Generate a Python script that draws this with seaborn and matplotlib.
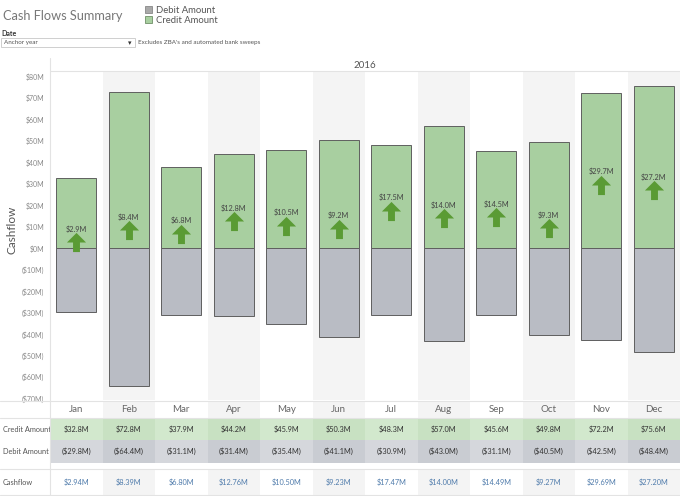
import matplotlib
matplotlib.use("Agg")
import matplotlib.pyplot as plt
from matplotlib.lines import Line2D
from matplotlib.patches import Patch, Rectangle
from matplotlib.path import Path
import seaborn as sns
import pandas as pd

# ---- data ----
months = ["Jan", "Feb", "Mar", "Apr", "May", "Jun", "Jul", "Aug", "Sep", "Oct", "Nov", "Dec"]
credit = [32.8, 72.8, 37.9, 44.2, 45.9, 50.3, 48.3, 57.0, 45.6, 49.8, 72.2, 75.6]
debit = [-29.8, -64.4, -31.1, -31.4, -35.4, -41.1, -30.9, -43.0, -31.1, -40.5, -42.5, -48.4]
cashflow = [2.94, 8.39, 6.80, 12.76, 10.50, 9.23, 17.47, 14.00, 14.49, 9.27, 29.69, 27.20]
year_label = "2016"
yticks = list(range(-70, 81, 10))

df = pd.DataFrame({"month": months, "credit": credit, "debit": debit, "cashflow": cashflow})

W, H = 680, 496
FONT = ["Lato", "DejaVu Sans"]
CREDIT_C = "#a8cfa0"
DEBIT_C = "#b9bcc4"
ARROW_C = "#5a9b34"
GRID_C = "#e3e3e3"
BAND_C = "#f4f4f4"

sns.set_theme(style="white")
plt.rcParams["font.family"] = FONT

fig = plt.figure(figsize=(W / 100, H / 100), dpi=100)


def fx(x):
    return x / W


def fy(y):
    return 1 - y / H


def rect(x0, y0, x1, y1):
    return [fx(x0), fy(y1), fx(x1) - fx(x0), fy(y0) - fy(y1)]


# ---- header ----
fig.text(fx(3), fy(16), "Cash Flows Summary", fontsize=9.2, color="#777777", va="center")
fig.text(fx(1), fy(33), "Date", fontsize=5, color="#333333", va="center", fontweight="bold")
fig.add_artist(Rectangle((fx(1), fy(47)), fx(134), fy(38) - fy(47), transform=fig.transFigure,
                         facecolor="white", edgecolor="#c8c8c8", lw=0.6))
fig.text(fx(4), fy(42.5), "Anchor year", fontsize=4.5, color="#555555", va="center")
fig.text(fx(130), fy(42.5), "▾", fontsize=5, color="#333333", va="center", ha="center")
fig.text(fx(138), fy(42.5), "Excludes ZBA's and automated bank sweeps", fontsize=4.5,
         color="#555555", va="center")

handles = [Patch(facecolor="#a9a9a9", edgecolor="#888888", lw=0.6),
           Patch(facecolor=CREDIT_C, edgecolor="#6f8f68", lw=0.6)]
fig.legend(handles, ["Debit Amount", "Credit Amount"], loc="upper left",
           bbox_to_anchor=(fx(139), fy(0)), frameon=False, fontsize=6.8,
           labelcolor="#555555", handlelength=0.8, handleheight=0.8,
           handletextpad=0.4, labelspacing=0.15, borderpad=0.1)

fig.text(fx(365), fy(65), year_label, fontsize=7, color="#555555", ha="center", va="center")
fig.add_artist(Line2D([fx(50), fx(680)], [fy(71), fy(71)], color=GRID_C, lw=0.8))

# ---- main chart ----
ax = fig.add_axes(rect(50, 72, 680, 400))
for i in range(1, 12, 2):
    ax.axvspan(i - 0.5, i + 0.5, color=BAND_C, lw=0, zorder=0)

sns.barplot(data=df, x="month", y="credit", color=CREDIT_C, width=0.76,
            edgecolor="#5f5f5f", linewidth=0.7, saturation=1, ax=ax, zorder=2)
sns.barplot(data=df, x="month", y="debit", color=DEBIT_C, width=0.76,
            edgecolor="#5f5f5f", linewidth=0.7, saturation=1, ax=ax, zorder=2)

arrow = Path([(-0.18, -0.5), (0.18, -0.5), (0.18, 0.0), (0.5, 0.0), (0.0, 0.5),
              (-0.5, 0.0), (-0.18, 0.0), (-0.18, -0.5)], closed=True)
sns.scatterplot(data=df, x="month", y="cashflow", marker=arrow, s=190,
                color=ARROW_C, linewidth=0, ax=ax, zorder=3)
for i, v in enumerate(cashflow):
    ax.annotate(f"${v:.1f}M", (i, v), xytext=(0, 9.5), textcoords="offset points",
                ha="center", va="center", fontsize=5.3, color="#444444", zorder=4)

ax.set_xlim(-0.5, 11.5)
ax.set_ylim(-70.7, 82.2)
ax.set_yticks(yticks)
ax.set_yticklabels([f"${t}M" if t >= 0 else f"(${-t}M)" for t in yticks])
ax.tick_params(axis="y", labelsize=5, labelcolor="#888888", length=0, pad=4)
ax.set_xticks([])
ax.set_xlabel("")
ax.set_ylabel("Cashflow", fontsize=8.5, color="#555555")
ax.yaxis.set_label_coords((18 - 50) / 630, 0.52)
for s in ["top", "right", "bottom", "left"]:
    ax.spines[s].set_visible(False)
ax.set_facecolor("white")

fig.add_artist(Line2D([fx(49.5), fx(49.5)], [fy(58), fy(496)], color=GRID_C, lw=0.8))

# ---- table below ----
tx = fig.add_axes(rect(0, 400, 680, 496))
tx.set_xlim(-0.5 - 50 / 52.5, 11.5)
tx.set_ylim(496, 400)
tx.axis("off")

for i in range(12):
    band = BAND_C if i % 2 else "white"
    tx.add_patch(Rectangle((i - 0.5, 401), 1, 17, color=band, lw=0))
    tx.add_patch(Rectangle((i - 0.5, 418), 1, 22, color="#c8e1c2" if i % 2 else "#d2e8cd", lw=0))
    tx.add_patch(Rectangle((i - 0.5, 440), 1, 23, color="#c9ccd2" if i % 2 else "#d5d7dc", lw=0))
    tx.add_patch(Rectangle((i - 0.5, 470), 1, 25, color=band, lw=0))
    tx.text(i, 409.5, months[i], ha="center", va="center", fontsize=7, color="#666666")
    tx.text(i, 429, f"${credit[i]:.1f}M", ha="center", va="center", fontsize=5.3, color="#333333")
    tx.text(i, 451.5, f"(${-debit[i]:.1f}M)", ha="center", va="center", fontsize=5.3, color="#333333")
    tx.text(i, 482.5, f"${cashflow[i]:.2f}M", ha="center", va="center", fontsize=5.3, color="#4f7bab")

for y in [400.5, 418, 469, 495]:
    tx.axhline(y, color=GRID_C, lw=0.8)

lx = -0.5 - 47 / 52.5
tx.text(lx, 429, "Credit Amount", ha="left", va="center", fontsize=5.3, color="#555555")
tx.text(lx, 451.5, "Debit Amount", ha="left", va="center", fontsize=5.3, color="#555555")
tx.text(lx, 482.5, "Cashflow", ha="left", va="center", fontsize=5.3, color="#555555")

fig.savefig("out.png", dpi=100)
